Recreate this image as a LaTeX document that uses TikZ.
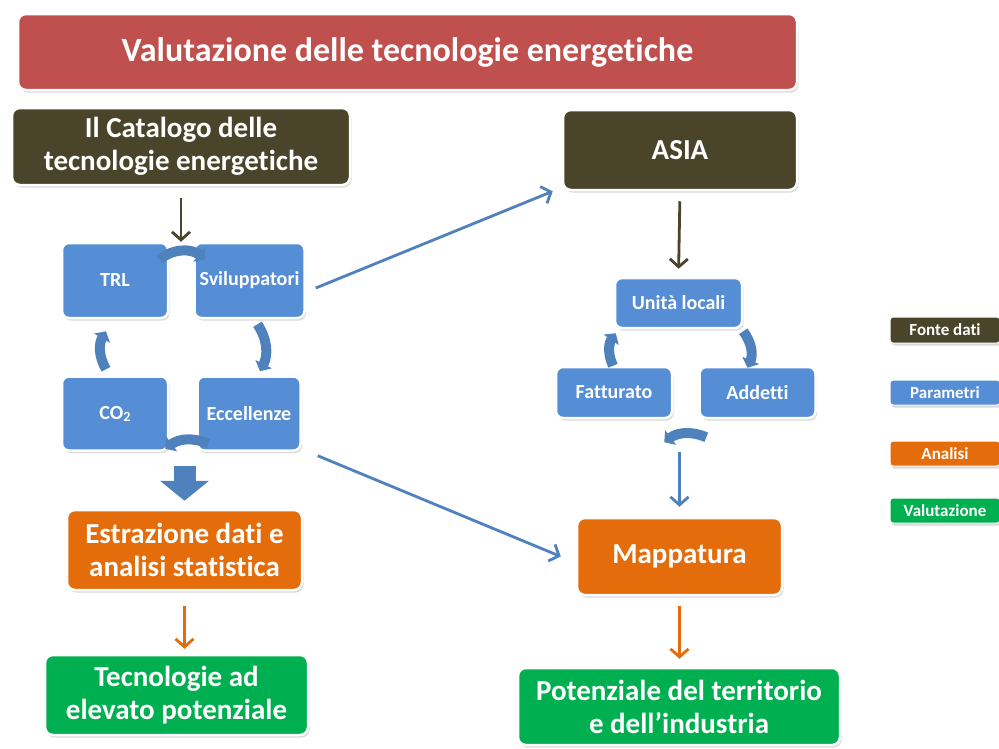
\documentclass[tikz,border=0pt]{standalone}
\usepackage{fontspec}
\setmainfont{Carlito}[Ligatures={NoCommon,NoDiscretionary}]
\usetikzlibrary{arrows.meta,positioning,shadows,calc}

\definecolor{rosso}{HTML}{C0504D}
\definecolor{marrone}{HTML}{4A452A}
\definecolor{blu}{HTML}{558ED5}
\definecolor{bluscuro}{HTML}{4F81BD}
\definecolor{arancio}{HTML}{E46C0A}
\definecolor{verde}{HTML}{00B050}

\tikzset{
  box/.style={rectangle, rounded corners=8pt, draw=white, line width=2.5pt,
    text=white, font=\bfseries, align=center, inner sep=2pt,
    drop shadow={opacity=0.3, shadow xshift=1.5pt, shadow yshift=-2.5pt}},
  titolo/.style={box, fill=rosso, font=\bfseries\fontsize{34}{40}\selectfont},
  fonte/.style={box, fill=marrone, font=\bfseries\fontsize{29}{33}\selectfont},
  parametro/.style={box, fill=blu, rounded corners=7pt, font=\bfseries\fontsize{20}{24}\selectfont},
  analisi/.style={box, fill=arancio, font=\bfseries\fontsize{29}{33}\selectfont},
  valutazione/.style={box, fill=verde, font=\bfseries\fontsize{29}{33}\selectfont},
  legenda/.style={box, rounded corners=3pt, line width=1pt, minimum width=110pt,
    minimum height=25pt, font=\bfseries\fontsize{17}{19}\selectfont},
  freccia/.style={line width=2.8pt, -{Straight Barb[length=8pt,width=18pt]}},
  ciclo/.style={line width=10pt, draw=bluscuro, -{Triangle[length=8pt,width=18pt]}},
  blocco/.style={line width=22pt, draw=bluscuro, -{Triangle[length=20pt,width=48pt]}}
}

\begin{document}
\begin{tikzpicture}[x=1pt, y=-1pt]
  \useasboundingbox (0,0) rectangle (999,748);

  \node[titolo, minimum width=779pt, minimum height=76pt] (titolo) at (407.5,52) {Valutazione delle tecnologie energetiche};

  % fonti dei dati
  \node[fonte, minimum width=338pt, minimum height=77pt] (catalogo) at (181,146.5) {Il Catalogo delle\\tecnologie energetiche};
  \node[fonte, minimum width=234pt, minimum height=80pt] (asia) at (680,150) {ASIA};

  % parametri del catalogo
  \node[parametro, minimum width=106pt, minimum height=75pt] (trl) at (115,280.5) {TRL};
  \node[parametro, minimum width=110pt, minimum height=75pt] (sviluppatori) [right=24pt of trl] {Sviluppatori};
  \node[parametro, minimum width=106pt, minimum height=74pt] (co2) [below=56pt of trl] {CO{\fontsize{14}{14}\selectfont\raisebox{-2pt}{2}}};
  \node[parametro, minimum width=103pt, minimum height=74pt] (eccellenze) [right=27pt of co2] {Eccellenze};

  % parametri di ASIA
  \node[parametro, minimum width=127pt, minimum height=50pt] (unita) at (678.5,303) {Unità locali};
  \node[parametro, minimum width=116pt, minimum height=51pt] (fatturato) at (614,392.5) {Fatturato};
  \node[parametro, minimum width=116pt, minimum height=51pt] (addetti) [right=25pt of fatturato] {Addetti};

  % analisi e valutazione
  \node[analisi, minimum width=235pt, minimum height=80pt] (estrazione) at (184.5,550) {Estrazione dati e\\analisi statistica};
  \node[analisi, minimum width=205pt, minimum height=77pt] (mappatura) at (679.5,556.5) {Mappatura};
  \node[valutazione, minimum width=263pt, minimum height=80pt] (tecnologie) at (176.5,695) {Tecnologie ad\\elevato potenziale};
  \node[valutazione, minimum width=322pt, minimum height=77pt] (potenziale) at (679,706.5) {Potenziale del territorio\\e dell’industria};

  % legenda
  \node[legenda, fill=marrone, minimum height=26pt] (lfonte) at (945,330) {Fonte dati};
  \node[legenda, fill=blu] (lparametri) [below=36pt of lfonte] {Parametri};
  \node[legenda, fill=arancio] (lanalisi) [below=35pt of lparametri] {Analisi};
  \node[legenda, fill=verde] (lvalutazione) [below=31pt of lanalisi] {Valutazione};

  % frecce
  \draw[freccia, marrone, shorten <=12pt] (catalogo.south) -- (catalogo.south |- trl.north);
  \draw[freccia, marrone, shorten <=10pt, shorten >=8pt] (asia.south) -- (unita.north);
  \draw[freccia, bluscuro] ([shift={(10pt,-7.5pt)}]sviluppatori.east) -- ([xshift=-9pt]asia.south west);
  \draw[freccia, bluscuro] ([shift={(16pt,-4pt)}]eccellenze.south east) -- ([xshift=-15pt]mappatura.west);
  \draw[freccia, bluscuro] ([yshift=65pt]mappatura.north) -- ([yshift=10pt]mappatura.north);
  \draw[freccia, arancio, shorten <=15pt, shorten >=5pt] (estrazione.south) -- (estrazione.south |- tecnologie.north);
  \draw[freccia, arancio, shorten <=10pt, shorten >=8pt] (mappatura.south) -- (mappatura.south |- potenziale.north);
  \draw[blocco] ([yshift=43pt]estrazione.north) -- ([yshift=8pt]estrazione.north);

  % ciclo del catalogo
  \draw[ciclo] ([shift={(-10pt,-18pt)}]trl.north east) to[bend left=40] ([shift={(12pt,-18pt)}]sviluppatori.north west);
  \draw[ciclo] ([shift={(8pt,-5pt)}]sviluppatori.south) to[bend left=30] ([shift={(11pt,4pt)}]eccellenze.north);
  \draw[ciclo] ([shift={(12pt,8pt)}]eccellenze.south west) to[bend right=30] ([shift={(-4pt,3pt)}]co2.south east);
  \draw[ciclo] ([shift={(-9pt,6pt)}]co2.north) to[bend left=30] ([shift={(-9pt,-12pt)}]trl.south);

  % ciclo di ASIA
  \draw[ciclo] ([xshift=-1pt]fatturato.north) to[bend left=30] ([shift={(2pt,-4pt)}]unita.south west);
  \draw[ciclo] ([yshift=-2pt]unita.south east) to[bend left=30] ([shift={(-10pt,-2pt)}]addetti.north);
  \draw[ciclo] ([shift={(8pt,-18pt)}]addetti.south west) to[bend right=30] ([shift={(-9pt,-23pt)}]fatturato.south east);
\end{tikzpicture}
\end{document}
